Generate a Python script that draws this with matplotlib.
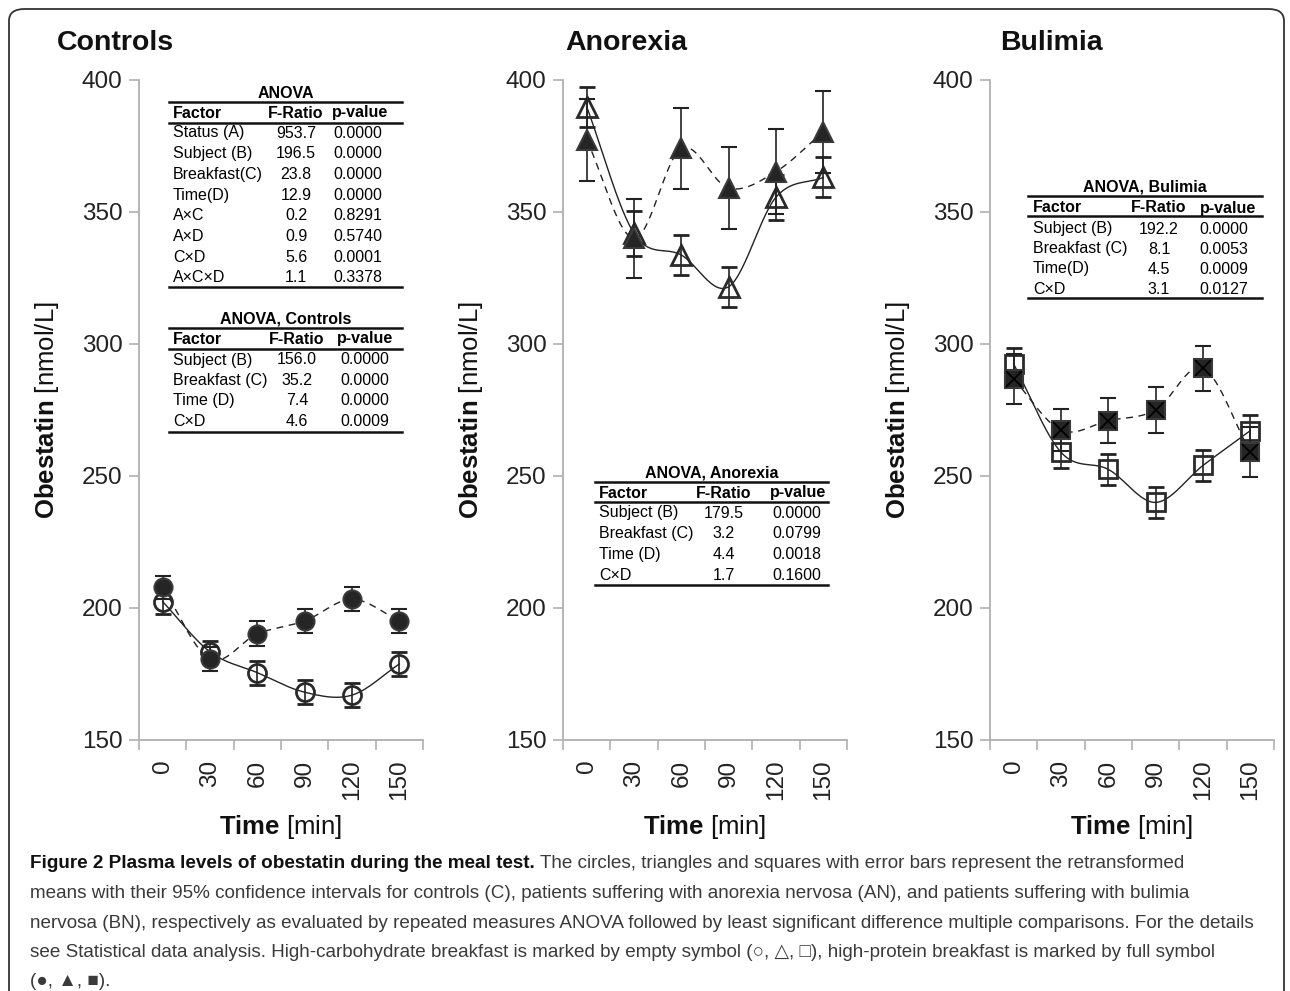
import numpy as np
import matplotlib
matplotlib.use('Agg')
import matplotlib.pyplot as plt
from matplotlib.lines import Line2D
from matplotlib.patches import FancyBboxPatch

plt.rcParams['font.family'] = ['Liberation Sans', 'DejaVu Sans']
plt.rcParams['mathtext.fontset'] = 'custom'
plt.rcParams['mathtext.rm'] = 'Liberation Sans'
plt.rcParams['mathtext.bf'] = 'Liberation Sans:bold'

W, H = 1290, 991

# time points (min)
times = ['0', '30', '60', '90', '120', '150']

# controls: high-carbohydrate (empty) / high-protein (full)
ctrl_carb = [202.4, 183.4, 175.5, 168.1, 167.0, 178.8]
ctrl_carb_err = [4.5, 4.0, 4.5, 4.5, 4.5, 4.5]
ctrl_prot = [207.8, 180.7, 190.2, 195.1, 203.3, 195.2]
ctrl_prot_err = [4.5, 4.5, 4.7, 4.5, 4.5, 4.5]

# anorexia
an_carb = [389.9, 341.9, 333.7, 321.7, 355.6, 363.1]
an_carb_err = [7.6, 8.5, 7.6, 7.6, 8.5, 7.6]
an_prot = [377.3, 340.0, 374.1, 359.0, 365.3, 380.4]
an_prot_err = [15.4, 15.0, 15.3, 15.5, 16.0, 15.5]

# bulimia
bu_carb = [292.4, 259.0, 252.5, 240.0, 254.0, 267.2]
bu_carb_err = [6.0, 6.0, 6.0, 6.0, 6.0, 6.0]
bu_prot = [286.7, 267.4, 271.0, 275.0, 290.8, 259.0]
bu_prot_err = [9.5, 8.0, 8.4, 8.6, 8.6, 9.5]

# ANOVA tables
anova_factor = ['Status (A)', 'Subject (B)', 'Breakfast(C)', 'Time(D)', 'A\u00d7C', 'A\u00d7D', 'C\u00d7D', 'A\u00d7C\u00d7D']
anova_f = ['953.7', '196.5', '23.8', '12.9', '0.2', '0.9', '5.6', '1.1']
anova_p = ['0.0000', '0.0000', '0.0000', '0.0000', '0.8291', '0.5740', '0.0001', '0.3378']

ctrl_factor = ['Subject (B)', 'Breakfast (C)', 'Time (D)', 'C\u00d7D']
ctrl_f = ['156.0', '35.2', '7.4', '4.6']
ctrl_p = ['0.0000', '0.0000', '0.0000', '0.0009']

an_factor = ['Subject (B)', 'Breakfast (C)', 'Time (D)', 'C\u00d7D']
an_f = ['179.5', '3.2', '4.4', '1.7']
an_p = ['0.0000', '0.0799', '0.0018', '0.1600']

bu_factor = ['Subject (B)', 'Breakfast (C)', 'Time(D)', 'C\u00d7D']
bu_f = ['192.2', '8.1', '4.5', '3.1']
bu_p = ['0.0000', '0.0053', '0.0009', '0.0127']

fig = plt.figure(figsize=(W / 100, H / 100), dpi=100)


def fx(x):
    return x / W


def fy(y):
    return 1 - y / H


def smooth(vals, n=30):
    # Catmull-Rom curve through the means, only for drawing the line
    p = np.asarray(vals, float)
    p = np.concatenate([[2 * p[0] - p[1]], p, [2 * p[-1] - p[-2]]])
    t = np.linspace(0, 1, n)
    xs, ys = [], []
    for i in range(1, len(p) - 2):
        p0, p1, p2, p3 = p[i - 1:i + 3]
        y = 0.5 * (2 * p1 + (-p0 + p2) * t + (2 * p0 - 5 * p1 + 4 * p2 - p3) * t ** 2
                   + (-p0 + 3 * p1 - 3 * p2 + p3) * t ** 3)
        xs.append(i - 1 + t)
        ys.append(y)
    return np.concatenate(xs), np.concatenate(ys)


def panel(left, title, title_x, carb, carb_err, prot, prot_err, marker):
    ax = fig.add_axes([fx(left), fy(740), 284 / W, 660 / H])
    x = np.arange(len(times))
    ms = 14 if marker == '^' else 13
    sx, sy = smooth(carb)
    ax.plot(sx, sy, color='#222222', lw=1.0, zorder=2)
    sx, sy = smooth(prot)
    ax.plot(sx, sy, color='#222222', lw=1.0, ls=(0, (5, 4)), zorder=2)
    ax.errorbar(x, carb, yerr=carb_err, fmt=marker, ms=ms, mfc='none', mec='#2a2a2a',
                mew=2.0, ecolor='#222222', elinewidth=1.2, capsize=6, capthick=1.2, zorder=3)
    ax.errorbar(x, prot, yerr=prot_err, fmt=marker, ms=ms, mfc='#252525', mec='#3a3a3a',
                mew=1.5, ecolor='#222222', elinewidth=1.2, capsize=6, capthick=1.2, zorder=4)
    if marker == 's':
        ax.plot(x, prot, 'x', ms=11, color='#000000', mew=1.3, zorder=5)

    ax.set_ylim(150, 400)
    ax.set_xlim(-0.5, len(times) - 0.5)
    ax.set_yticks(range(150, 401, 50))
    ax.set_xticks(np.arange(-0.5, len(times), 1))
    ax.set_xticklabels([])
    ax.set_xticks(x, minor=True)
    ax.set_xticklabels(times, minor=True, rotation=90)
    ax.tick_params(axis='x', which='minor', length=0, pad=14, labelsize=17.5, labelcolor='#222222')
    ax.tick_params(axis='x', which='major', length=7, width=1.2, color='#b0b0b0')
    ax.tick_params(axis='y', length=7, width=1.2, color='#b0b0b0', pad=5,
                   labelsize=17.5, labelcolor='#222222')
    for s in ['top', 'right']:
        ax.spines[s].set_visible(False)
    for s in ['left', 'bottom']:
        ax.spines[s].set_color('#b0b0b0')
        ax.spines[s].set_linewidth(1.3)

    ax.text(-92 / 284, 0.5, r'$\mathbf{Obestatin}$ [nmol/L]', transform=ax.transAxes,
            rotation=90, ha='center', va='center', fontsize=18.5, color='#111111')
    ax.text(0.5, -87 / 660, r'$\mathbf{Time}$ [min]', transform=ax.transAxes,
            ha='center', va='center', fontsize=18.5, color='#111111')
    fig.text(fx(title_x), fy(43), title, ha='left', va='center', fontsize=20.5,
             fontweight='bold', color='#111111')
    return ax


def hline(x1, x2, y, lw=1.8):
    fig.add_artist(Line2D([fx(x1), fx(x2)], [fy(y), fy(y)], color='#111111', lw=lw,
                          transform=fig.transFigure))


def table(title, factors, fvals, pvals, x1, x2, y_title, y_top, y_head, y_hrule,
          y_row0, dy, y_bot, fac_x, f_x, p_x, phead_x):
    fs = 11.5
    fig.text(fx((x1 + x2) / 2), fy(y_title), title, ha='center', va='center',
             fontsize=fs, fontweight='bold')
    hline(x1, x2, y_top)
    fig.text(fx(fac_x), fy(y_head), 'Factor', ha='left', va='center', fontsize=fs, fontweight='bold')
    fig.text(fx(f_x), fy(y_head), 'F-Ratio', ha='center', va='center', fontsize=fs, fontweight='bold')
    fig.text(fx(phead_x), fy(y_head), 'p-value', ha='center', va='center', fontsize=fs, fontweight='bold')
    hline(x1, x2, y_hrule)
    for i, (fac, fv, pv) in enumerate(zip(factors, fvals, pvals)):
        y = y_row0 + i * dy
        fig.text(fx(fac_x), fy(y), fac, ha='left', va='center', fontsize=fs)
        fig.text(fx(f_x), fy(y), fv, ha='center', va='center', fontsize=fs)
        fig.text(fx(p_x), fy(y), pv, ha='left', va='center', fontsize=fs)
    hline(x1, x2, y_bot)


panel(139, 'Controls', 57, ctrl_carb, ctrl_carb_err, ctrl_prot, ctrl_prot_err, 'o')
panel(563, 'Anorexia', 565, an_carb, an_carb_err, an_prot, an_prot_err, '^')
panel(990, 'Bulimia', 1000, bu_carb, bu_carb_err, bu_prot, bu_prot_err, 's')

table('ANOVA', anova_factor, anova_f, anova_p, 169, 402, 93, 101.7, 113, 122.7,
      133, 20.7, 287, 173, 296, 333, 360)
table('ANOVA, Controls', ctrl_factor, ctrl_f, ctrl_p, 169, 402, 319, 328, 339, 349,
      360, 20.4, 432, 173, 297, 340, 365)
table('ANOVA, Anorexia', an_factor, an_f, an_p, 595, 828, 473, 482, 493, 502,
      513, 20.7, 585, 599, 724, 772, 798)
table('ANOVA, Bulimia', bu_factor, bu_f, bu_p, 1028, 1262, 187, 196, 208, 216,
      229, 20.0, 298, 1033, 1159, 1199, 1228)

# caption
cap_bold = 'Figure 2 Plasma levels of obestatin during the meal test.'
cap_first = 'The circles, triangles and squares with error bars represent the retransformed'
cap_lines = [
    'means with their 95% confidence intervals for controls (C), patients suffering with anorexia nervosa (AN), and patients suffering with bulimia',
    'nervosa (BN), respectively as evaluated by repeated measures ANOVA followed by least significant difference multiple comparisons. For the details',
    'see Statistical data analysis. High-carbohydrate breakfast is marked by empty symbol (\u25cb, \u25b3, \u25a1), high-protein breakfast is marked by full symbol',
    '(\u25cf, \u25b2, \u25a0).',
]
cap_font = ['Liberation Sans', 'DejaVu Sans']
r = fig.canvas.get_renderer()
# fit the widest caption line into the frame width
probe = fig.text(0, 0, cap_lines[1], fontsize=14, family=cap_font)
cap_fs = 14 * 1238 / probe.get_window_extent(r).width
probe.remove()

t0 = fig.text(fx(30), fy(868), cap_bold, fontsize=cap_fs, fontweight='bold',
              family=cap_font, color='#111111', va='baseline')
bb = t0.get_window_extent(r)
fig.text(bb.x1 / W + 5 / W, fy(868), cap_first, fontsize=cap_fs, family=cap_font,
         color='#3a3a3a', va='baseline')
for i, line in enumerate(cap_lines):
    fig.text(fx(30), fy(898 + i * 29.5), line, fontsize=cap_fs, family=cap_font,
             color='#3a3a3a', va='baseline')

# rounded frame
frame = FancyBboxPatch((fx(9), fy(1010)), (1284 - 9) / W, (1010 - 9) / H,
                       boxstyle='round,pad=0,rounding_size=0.012', transform=fig.transFigure,
                       fill=False, ec='#333333', lw=1.3)
fig.add_artist(frame)

fig.savefig('out.png', dpi=100)
